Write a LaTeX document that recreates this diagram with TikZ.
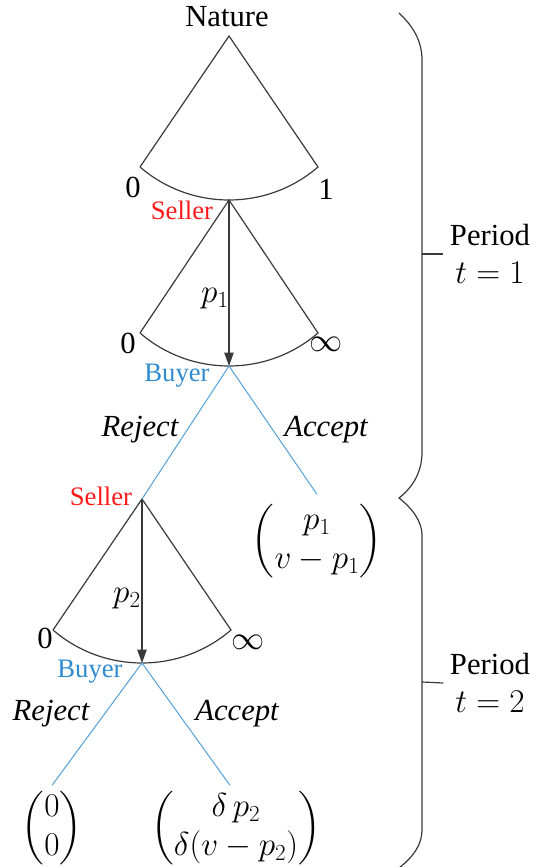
\documentclass[tikz,border=0pt]{standalone}
\usepackage{amsmath,amssymb}
\usepackage{fontspec}
\setmainfont{Liberation Serif}
\usetikzlibrary{arrows.meta,positioning,calc}
\definecolor{SellerRed}{HTML}{FF1A1A}
\definecolor{BuyerBlue}{HTML}{2E8BCF}
\definecolor{MoveBlue}{HTML}{5AA5DA}
\definecolor{FanGray}{HTML}{3A3A3A}

\begin{document}
\begin{tikzpicture}[x=0.75pt,y=-0.75pt,
    txt/.style={font=\fontsize{23}{29}\selectfont,inner sep=0pt},
    who/.style={font=\fontsize{20}{24}\selectfont,inner sep=0pt},
    fan/.style={draw=FanGray,line width=0.9pt},
    move/.style={draw=MoveBlue,line width=0.8pt},
    price/.style={draw=FanGray,line width=0.9pt,-{Triangle[length=10pt,width=7pt]}}]
  \useasboundingbox (0,0) rectangle (536,867);

  % decision points
  \coordinate (nat) at (229,36);
  \coordinate (sel1) at (229,200);
  \coordinate (buy1) at (229,366);
  \coordinate (sel2) at (142,499);
  \coordinate (buy2) at (142,663);

  % continuous choices
  \foreach \a/\b in {nat/sel1,sel1/buy1,sel2/buy2} {
    \draw[fan] ($(\b)+(-89,-33)$) -- (\a) -- ($(\b)+(89,-33)$)
      .. controls ($(\b)+(38,11)$) and ($(\b)+(-38,11)$) .. ($(\b)+(-89,-33)$);
  }
  \draw[price] (sel1) -- (buy1);
  \draw[price] (sel2) -- (buy2);

  \node[txt] (natlbl) at (227,17) {Nature};
  \node[txt] (lo0) at (133,187) {0};
  \node[txt] (hi0) at (326,189) {1};
  \node[who,text=SellerRed] (sel1lbl) at (182,210) {Seller};
  \node[txt] (p1lbl) at (215,299) {$p_1$};
  \node[txt] (lo1) at (128,343) {0};
  \node[txt] (hi1) at (326,344) {$\infty$};
  \node[who,text=BuyerBlue] (buy1lbl) at (177,376) {Buyer};
  \node[who,text=SellerRed] (sel2lbl) at (101,496) {Seller};
  \node[txt] (p2lbl) at (127,599) {$p_2$};
  \node[txt] (lo2) at (45,638) {0};
  \node[txt] (hi2) at (248,642) {$\infty$};
  \node[who,text=BuyerBlue] (buy2lbl) at (90,672) {Buyer};

  % payoffs (seller, buyer)
  \node[txt,outer sep=6pt] (pay1) at (317,541) {$\begin{pmatrix} p_1\\ v-p_1 \end{pmatrix}$};
  \node[txt,outer sep=3pt] (pay2) at (52,828) {$\begin{pmatrix} 0\\ 0 \end{pmatrix}$};
  \node[txt,outer sep=3pt] (pay3) at (236,828) {$\begin{pmatrix} \delta\, p_2\\ \delta(v-p_2) \end{pmatrix}$};

  % responses
  \draw[move] (buy1) -- (sel2);
  \draw[move] (buy1) -- (pay1.north);
  \draw[move] (buy2) -- (pay2.north);
  \draw[move] (buy2) -- ($(pay3.north)+(-6,0)$);
  \node[txt,font=\fontsize{23}{29}\selectfont\itshape] (rej1) at (140,430) {Reject};
  \node[txt,font=\fontsize{23}{29}\selectfont\itshape] (acc1) at (326,430) {Accept};
  \node[txt,font=\fontsize{23}{29}\selectfont\itshape] (rej2) at (51,714) {Reject};
  \node[txt,font=\fontsize{23}{29}\selectfont\itshape] (acc2) at (237,714) {Accept};

  % periods
  \draw[fan] (399,13) .. controls (414,27) and (422,42) .. (422,60) -- (422,452)
    .. controls (422,472) and (413,487) .. (399,498)
    .. controls (413,509) and (422,522) .. (422,535) -- (422,830)
    .. controls (422,845) and (413,857) .. (399,868);
  \coordinate (tick1) at (422,254);
  \coordinate (tick2) at (422,682);
  \node[txt,align=center,outer sep=5pt] (per1) at (490,254) {Period\\$t=1$};
  \node[txt,align=center,outer sep=5pt] (per2) at (490,683) {Period\\$t=2$};
  \draw[fan] (tick1) -- (per1.west);
  \draw[fan] (tick2) -- (per2.west);
\end{tikzpicture}
\end{document}
